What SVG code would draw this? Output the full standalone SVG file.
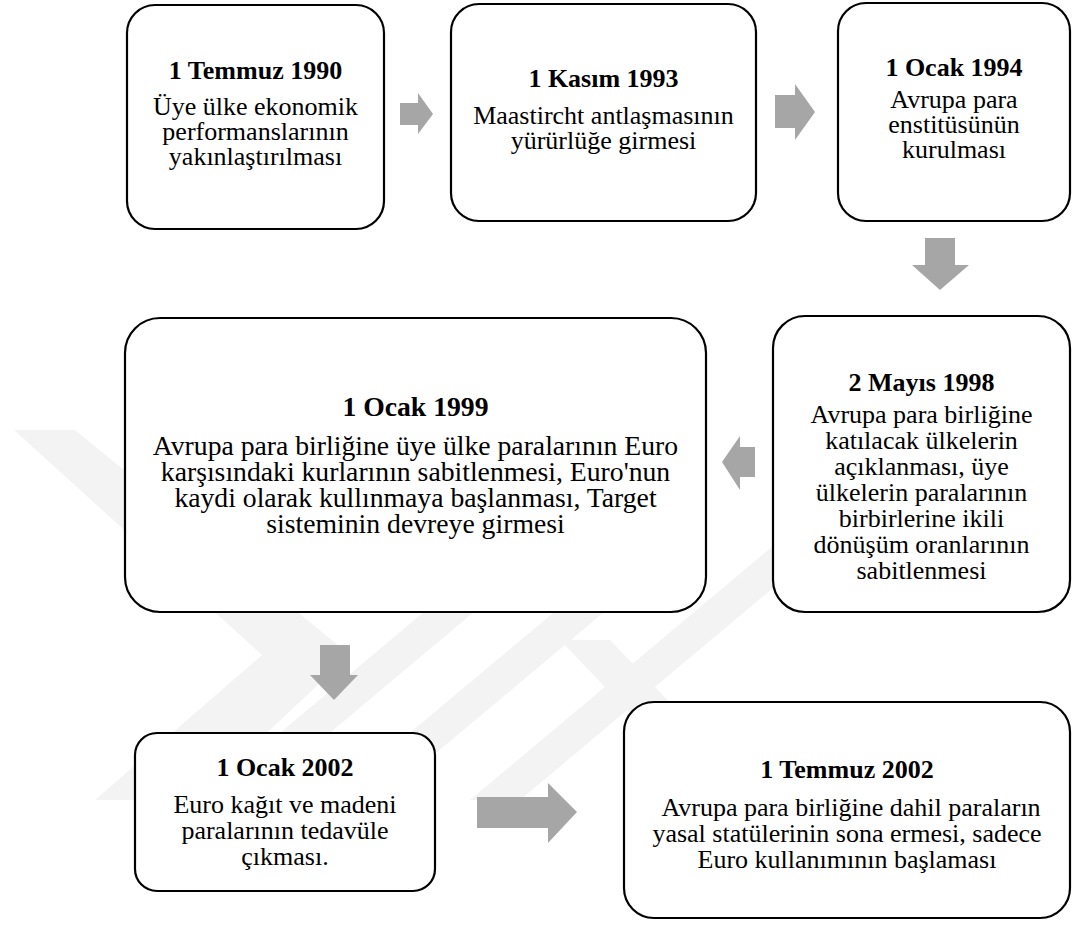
<svg xmlns="http://www.w3.org/2000/svg" width="1072" height="925" viewBox="0 0 1072 925">
<style>
.box{fill:#ffffff;stroke:#000000;stroke-width:2.2}
.t{font-family:'Liberation Serif','Times New Roman',Tinos,'DejaVu Serif',serif;font-size:26px;font-weight:bold;fill:#000;text-anchor:middle}
.b{font-family:'Liberation Serif','Times New Roman',Tinos,'DejaVu Serif',serif;font-size:26px;fill:#000;text-anchor:middle}
.big{font-size:27.7px}
.arr{fill:#a6a6a6}
.wm{fill:#f3f3f3}
</style>
<rect width="1072" height="925" fill="#ffffff"/>
<g id="watermark">
<polygon class="wm" points="14,430 75,430 350,655 195,800 95,800 262,655"/>
<polygon class="wm" points="200,800 250,800 500,590 450,590"/>
<polygon class="wm" points="330,800 380,800 690,540 640,540"/>
<polygon class="wm" points="470,800 520,800 860,515 810,515"/>
<polygon class="wm" points="560,640 610,640 830,870 780,870"/>
</g>
<g id="connectors">
<polygon class="arr" points="400,103 418,103 418,93 433,114 418,134 418,125 400,125"/>
<polygon class="arr" points="775,95 795,95 795,84 815,112 795,140 795,128 775,128"/>
<polygon class="arr" points="925,238 955,238 955,265 969,265 940,290 912,265 925,265"/>
<polygon class="arr" points="755,447 740,447 740,436 722,462 740,490 740,477 755,477"/>
<polygon class="arr" points="320,645 350,645 350,675 358,675 334,700 310,675 320,675"/>
<polygon class="arr" points="477,797 548,797 548,783 577,812 548,843 548,828 477,828"/>
</g>
<g id="n1">
<rect class="box" x="127" y="5" width="257" height="224" rx="28"/>
<text class="t" x="255.5" y="79">1 Temmuz 1990</text>
<text class="b" x="255.5" y="115">Üye ülke ekonomik</text>
<text class="b" x="255.5" y="140">performanslarının</text>
<text class="b" x="255.5" y="165">yakınlaştırılması</text>
</g>
<g id="n2">
<rect class="box" x="451" y="4" width="305" height="217" rx="28"/>
<text class="t" x="603.5" y="87">1 Kasım 1993</text>
<text class="b" x="603.5" y="124">Maastircht antlaşmasının</text>
<text class="b" x="603.5" y="149">yürürlüğe girmesi</text>
</g>
<g id="n3">
<rect class="box" x="838" y="3" width="232" height="218" rx="28"/>
<text class="t" x="954" y="76">1 Ocak 1994</text>
<text class="b" x="954" y="108">Avrupa para</text>
<text class="b" x="954" y="133">enstitüsünün</text>
<text class="b" x="954" y="158">kurulması</text>
</g>
<g id="n4">
<rect class="box" x="773" y="316" width="297" height="296" rx="32"/>
<text class="t" x="921.5" y="391">2 Mayıs 1998</text>
<text class="b" x="921.5" y="423">Avrupa para birliğine</text>
<text class="b" x="921.5" y="449">katılacak ülkelerin</text>
<text class="b" x="921.5" y="475">açıklanması, üye</text>
<text class="b" x="921.5" y="501">ülkelerin paralarının</text>
<text class="b" x="921.5" y="527">birbirlerine ikili</text>
<text class="b" x="921.5" y="553">dönüşüm oranlarının</text>
<text class="b" x="921.5" y="579">sabitlenmesi</text>
</g>
<g id="n5">
<rect class="box" x="125" y="318" width="581" height="294" rx="35"/>
<text class="t big" x="415.5" y="416">1 Ocak 1999</text>
<text class="b big" x="415.5" y="455">Avrupa para birliğine üye ülke paralarının Euro</text>
<text class="b big" x="415.5" y="481">karşısındaki kurlarının sabitlenmesi, Euro'nun</text>
<text class="b big" x="415.5" y="507">kaydi olarak kullınmaya başlanması, Target</text>
<text class="b big" x="415.5" y="533">sisteminin devreye girmesi</text>
</g>
<g id="n6">
<rect class="box" x="135" y="733" width="300" height="158" rx="22"/>
<text class="t" x="285" y="776">1 Ocak 2002</text>
<text class="b" x="285" y="813">Euro kağıt ve madeni</text>
<text class="b" x="285" y="839">paralarının tedavüle</text>
<text class="b" x="285" y="865">çıkması.</text>
</g>
<g id="n7">
<rect class="box" x="624" y="702" width="446" height="216" rx="30"/>
<text class="t" x="847" y="778">1 Temmuz 2002</text>
<text class="b" x="851" y="816">Avrupa para birliğine dahil paraların</text>
<text class="b" x="847" y="842">yasal statülerinin sona ermesi, sadece</text>
<text class="b" x="847" y="868">Euro kullanımının başlaması</text>
</g>
</svg>
